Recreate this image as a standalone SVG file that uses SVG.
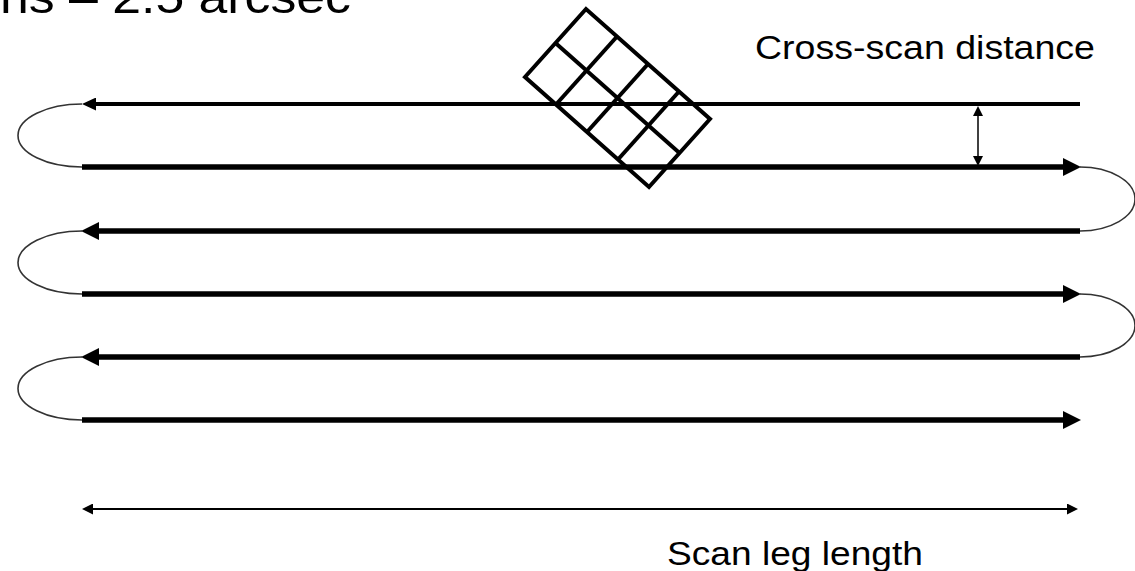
<svg xmlns="http://www.w3.org/2000/svg" width="1135" height="571" viewBox="0 0 1135 571">
  <style>
    .txt { font-family: "Liberation Sans", Arial, sans-serif; fill: #000; }
    .leg { stroke: #000; stroke-width: 5.5; fill: none; }
    .leg1 { stroke: #000; stroke-width: 4; fill: none; }
    .turn { stroke: #333; stroke-width: 1.6; fill: none; }
    .thin { stroke: #000; stroke-width: 2; fill: none; }
    .dim { stroke: #000; stroke-width: 1.5; fill: none; }
    .grid { stroke: #000; stroke-width: 4; fill: none; stroke-linejoin: miter; }
  </style>
  <defs>
    <marker id="bigArrow" markerUnits="userSpaceOnUse" markerWidth="18" markerHeight="18" viewBox="0 0 18 18" refX="0" refY="9" orient="auto">
      <path d="M0,0 L18,9 L0,18 Z" fill="#000"/>
    </marker>
    <marker id="midArrow" markerUnits="userSpaceOnUse" markerWidth="14" markerHeight="13" viewBox="0 0 14 13" refX="0" refY="6.5" orient="auto">
      <path d="M0,0 L14,6.5 L0,13 Z" fill="#000"/>
    </marker>
    <marker id="smallArrow" markerUnits="userSpaceOnUse" markerWidth="11" markerHeight="11" viewBox="0 0 11 11" refX="0" refY="5.5" orient="auto">
      <path d="M0,0 L11,5.5 L0,11 Z" fill="#000"/>
    </marker>
    <marker id="dimArrow" markerUnits="userSpaceOnUse" markerWidth="10" markerHeight="10" viewBox="0 0 10 10" refX="0" refY="5" orient="auto">
      <path d="M0,0 L10,5 L0,10 Z" fill="#000"/>
    </marker>
  </defs>

  <g id="title-fragment">
    <text class="txt" x="0" y="12.5" font-size="46" textLength="351" lengthAdjust="spacingAndGlyphs">ns – 2.5 arcsec</text>
  </g>

  <g id="connectors">
    <!-- scan legs -->
    <line class="leg1" x1="1080" y1="104" x2="96" y2="104" marker-end="url(#midArrow)"/>
    <line class="leg" x1="82" y1="167" x2="1063" y2="167" marker-end="url(#bigArrow)"/>
    <line class="leg" x1="1080" y1="231" x2="99" y2="231" marker-end="url(#bigArrow)"/>
    <line class="leg" x1="82" y1="294" x2="1063" y2="294" marker-end="url(#bigArrow)"/>
    <line class="leg" x1="1080" y1="357" x2="99" y2="357" marker-end="url(#bigArrow)"/>
    <line class="leg" x1="82" y1="420" x2="1063" y2="420" marker-end="url(#bigArrow)"/>
    <!-- turnarounds -->
    <path class="turn" d="M82,104 A64,31.5 0 0 0 82,167"/>
    <path class="turn" d="M82,231 A64,31.5 0 0 0 82,294"/>
    <path class="turn" d="M82,357 A64,31.5 0 0 0 82,420"/>
    <path class="turn" d="M1080,167 A55,32 0 0 1 1080,231"/>
    <path class="turn" d="M1080,294 A55,31.5 0 0 1 1080,357"/>
    <!-- cross-scan distance dimension -->
    <line class="dim" x1="978" y1="136" x2="978" y2="116" marker-end="url(#dimArrow)"/>
    <line class="dim" x1="978" y1="136" x2="978" y2="156" marker-end="url(#dimArrow)"/>
    <!-- scan leg length dimension -->
    <line class="thin" x1="580" y1="509" x2="93" y2="509" marker-end="url(#smallArrow)"/>
    <line class="thin" x1="580" y1="509" x2="1067" y2="509" marker-end="url(#smallArrow)"/>
  </g>

  <g id="detector-array">
    <polygon class="grid" points="525,77 586,9 710,119 649,187"/>
    <line class="grid" x1="555.5" y1="43" x2="679.5" y2="153"/>
    <line class="grid" x1="556" y1="104.5" x2="617" y2="36.5"/>
    <line class="grid" x1="587" y1="132" x2="648" y2="64"/>
    <line class="grid" x1="618" y1="159.5" x2="679" y2="91.5"/>
  </g>

  <g id="label-cross-scan">
    <text class="txt" x="755" y="59" font-size="34" textLength="340" lengthAdjust="spacingAndGlyphs">Cross-scan distance</text>
  </g>
  <g id="label-scan-leg">
    <text class="txt" x="667" y="565" font-size="34" textLength="256" lengthAdjust="spacingAndGlyphs">Scan leg length</text>
  </g>
</svg>
